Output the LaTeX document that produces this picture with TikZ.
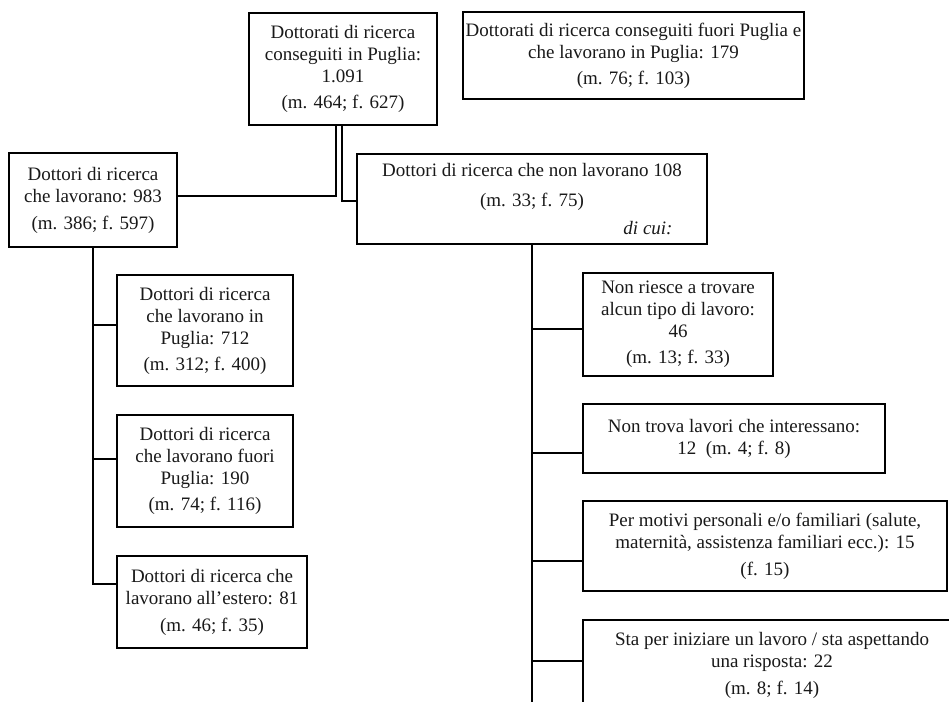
\documentclass[tikz,border=0pt]{standalone}
\usepackage{fontspec}
\setmainfont{Liberation Serif}
\begin{document}
\begin{tikzpicture}[x=1pt,y=-1pt,
  box/.style={draw=black, line width=1.6pt, align=center, inner xsep=3pt, inner ysep=3pt,
    font=\fontsize{19}{22}\selectfont, text=black!90},
  link/.style={draw=black, line width=1.3pt}]
\fill[white] (0,0) rectangle (949,701);
\useasboundingbox (0,0) rectangle (949,701);
\clip (0,0) rectangle (949,701);

\node[box, minimum width=188pt, minimum height=112pt] (root) at (343,69)
  {Dottorati di ricerca\\ conseguiti in Puglia:\\ 1.091\\[4pt] (m. 464; f. 627)};
\node[box, minimum width=333pt, minimum height=87pt] (fuori) at (633.5,55.5)
  {Dottorati di ricerca conseguiti fuori Puglia e\\ che lavorano in Puglia: 179\\[4pt] (m. 76; f. 103)};
\node[box, minimum width=168pt, minimum height=94pt] (lav) at (93,200)
  {Dottori di ricerca\\ che lavorano: 983\\[5pt] (m. 386; f. 597)};
\node[box, minimum width=350pt, minimum height=90pt] (nonlav) at (532,199)
  {Dottori di ricerca che non lavorano 108\\[8pt] (m. 33; f. 75)\\[6pt] \hspace*{232pt}\textit{di cui:}};

\node[box, minimum width=176pt, minimum height=111pt] (p1) at (205,330.5)
  {Dottori di ricerca\\ che lavorano in\\ Puglia: 712\\[4pt] (m. 312; f. 400)};
\node[box, minimum width=176pt, minimum height=112pt] (p2) at (205,471)
  {Dottori di ricerca\\ che lavorano fuori\\ Puglia: 190\\[4pt] (m. 74; f. 116)};
\node[box, minimum width=190pt, minimum height=92pt] (p3) at (212,602)
  {Dottori di ricerca che\\ lavorano all'estero: 81\\[5pt] (m. 46; f. 35)};

\node[box, minimum width=190pt, minimum height=103pt] (ca) at (678,324.5)
  {Non riesce a trovare\\ alcun tipo di lavoro:\\ 46\\[4pt] (m. 13; f. 33)};
\node[box, minimum width=302pt, minimum height=69pt] (cb) at (734,438.5)
  {Non trova lavori che interessano:\\ 12~~(m. 4; f. 8)};
\node[box, minimum width=364pt, minimum height=90pt] (cc) at (765,546)
  {Per motivi personali e/o familiari (salute,\\ maternità, assistenza familiari ecc.): 15\\[5pt] (f. 15)};
\node[box, minimum width=378pt, anchor=north, inner ysep=6pt, minimum height=92pt] (cd) at (772,619)
  {Sta per iniziare un lavoro / sta aspettando\\ una risposta: 22\\[5pt] (m. 8; f. 14)};

\coordinate (rend) at (532,705);

% root to the two branches
\draw[link] ([xshift=-7pt]root.south) |- ([yshift=4pt]lav.east);
\draw[link] ([xshift=-1pt]root.south) |- ([yshift=-2pt]nonlav.west);

% left trunk
\draw[link] (lav.south) |- ([yshift=18pt]p3.west);
\draw[link] (lav.south) |- ([yshift=5.5pt]p1.west);
\draw[link] (lav.south) |- ([yshift=12pt]p2.west);

% right trunk
\draw[link] (nonlav.south) -- (rend);
\draw[link] (nonlav.south) |- ([yshift=-4.5pt]ca.west);
\draw[link] (nonlav.south) |- ([yshift=-14.5pt]cb.west);
\draw[link] (nonlav.south) |- ([yshift=-15pt]cc.west);
\draw[link] (nonlav.south) |- ([yshift=-42pt]cd.north west);
\end{tikzpicture}
\end{document}
